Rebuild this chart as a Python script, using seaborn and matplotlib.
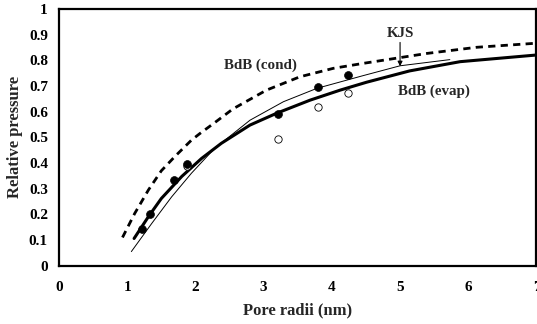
import matplotlib
matplotlib.use("Agg")
import matplotlib.pyplot as plt
import seaborn as sns
import pandas as pd

# --- data ---
cond_x = [0.93, 1.11, 1.31, 1.50, 1.70, 1.94, 2.06, 2.28, 2.55, 3.04, 3.53, 4.02, 4.45, 5.39, 6.12, 7.00]
cond_y = [0.110, 0.204, 0.295, 0.370, 0.426, 0.489, 0.514, 0.557, 0.611, 0.684, 0.736, 0.769, 0.788, 0.827, 0.851, 0.867]

evap_x = [1.10, 1.31, 1.50, 1.80, 2.09, 2.38, 2.80, 3.19, 3.68, 4.12, 4.51, 5.14, 5.88, 7.00]
evap_y = [0.106, 0.191, 0.262, 0.348, 0.418, 0.477, 0.548, 0.594, 0.645, 0.684, 0.715, 0.759, 0.795, 0.821]

kjs_x = [1.06, 1.36, 1.65, 1.94, 2.28, 2.80, 3.29, 3.78, 4.45, 5.00, 5.73]
kjs_y = [0.055, 0.165, 0.268, 0.360, 0.457, 0.567, 0.639, 0.691, 0.740, 0.779, 0.803]

filled_x = [1.21, 1.34, 1.69, 1.88, 3.21, 3.80, 4.24]
filled_y = [0.143, 0.202, 0.332, 0.395, 0.593, 0.696, 0.744]

open_x = [1.88, 3.21, 3.80, 4.24]
open_y = [0.388, 0.492, 0.619, 0.671]

x_ticks = [0, 1, 2, 3, 4, 5, 6, 7]
y_ticks = [0, 0.1, 0.2, 0.3, 0.4, 0.5, 0.6, 0.7, 0.8, 0.9, 1]
y_tick_labels = ["0", "0.1", "0.2", "0.3", "0.4", "0.5", "0.6", "0.7", "0.8", "0.9", "1"]

sns.set_theme(style="white")
plt.rcParams["font.family"] = ["Liberation Serif", "DejaVu Serif"]
plt.rcParams["font.weight"] = "bold"

fig = plt.figure(figsize=(5.37, 3.24), dpi=100)
ax = fig.add_axes([0.110, 0.180, 0.889, 0.792])

df_cond = pd.DataFrame({"x": cond_x, "y": cond_y})
df_evap = pd.DataFrame({"x": evap_x, "y": evap_y})
df_kjs = pd.DataFrame({"x": kjs_x, "y": kjs_y})
df_f = pd.DataFrame({"x": filled_x, "y": filled_y})
df_o = pd.DataFrame({"x": open_x, "y": open_y})

sns.lineplot(data=df_cond, x="x", y="y", ax=ax, sort=False, color="black",
             linewidth=2.0, estimator=None)
ax.lines[-1].set_linestyle((0, (2.6, 1.9)))
sns.lineplot(data=df_evap, x="x", y="y", ax=ax, sort=False, color="black",
             linewidth=2.2, estimator=None)
sns.lineplot(data=df_kjs, x="x", y="y", ax=ax, sort=False, color="black",
             linewidth=0.7, estimator=None)
sns.scatterplot(data=df_o, x="x", y="y", ax=ax, s=28, facecolor="white",
                edgecolor="black", linewidth=0.6, zorder=3)
sns.scatterplot(data=df_f, x="x", y="y", ax=ax, s=32, color="black",
                edgecolor="black", linewidth=0.5, zorder=4)

ax.set_xlim(0, 7)
ax.set_ylim(0, 1)
ax.set_xticks(x_ticks)
ax.set_xticklabels([str(t) for t in x_ticks])
ax.set_yticks(y_ticks)
ax.set_yticklabels(y_tick_labels)
ax.tick_params(axis="both", direction="in", length=4, width=1.2, labelsize=11,
               colors="black")
ax.tick_params(axis="x", pad=11)
ax.tick_params(axis="y", pad=8)
for lbl in ax.get_xticklabels() + ax.get_yticklabels():
    lbl.set_fontweight("bold")

for sp in ax.spines.values():
    sp.set_visible(True)
    sp.set_color("black")
    sp.set_linewidth(1.6)

ax.set_xlabel("Pore radii (nm)", fontsize=12, fontweight="bold", labelpad=6)
ax.set_ylabel("Relative pressure", fontsize=12, fontweight="bold", labelpad=4)

ax.text(2.95, 0.782, "BdB (cond)", ha="center", va="center", fontsize=10.8, fontweight="bold")
ax.text(5.49, 0.678, "BdB (evap)", ha="center", va="center", fontsize=10.8, fontweight="bold")
ax.text(5.0, 0.905, "KJS", ha="center", va="center", fontsize=10.8, fontweight="bold")
ax.annotate("", xy=(5.0, 0.777), xytext=(5.0, 0.87),
            arrowprops=dict(arrowstyle="-|>", color="black", lw=0.8,
                            mutation_scale=7, shrinkA=0, shrinkB=0))

fig.savefig("out.png", dpi=100)
